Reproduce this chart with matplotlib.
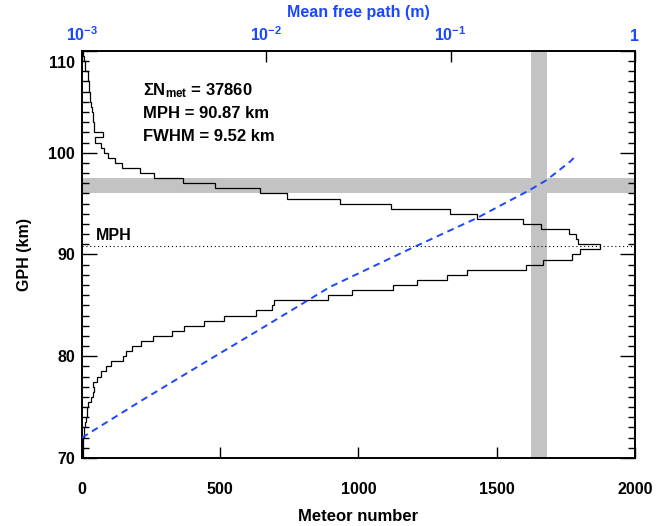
import numpy as np
import matplotlib
matplotlib.use("Agg")
import matplotlib.pyplot as plt
from matplotlib.ticker import MultipleLocator, FixedLocator, NullLocator, FixedFormatter
from matplotlib.transforms import ScaledTranslation

plt.rcParams['font.family'] = ['Liberation Sans', 'DejaVu Sans']
plt.rcParams['font.weight'] = 'bold'
plt.rcParams['mathtext.fontset'] = 'custom'
plt.rcParams['mathtext.rm'] = 'Liberation Sans'
plt.rcParams['mathtext.bf'] = 'Liberation Sans:bold'
plt.rcParams['mathtext.it'] = 'Liberation Sans:bold'

# ---- data ----
# histogram: 0.5 km bins from 70 to 110 km (lower bin edges)
bin_lower = np.arange(70.0, 110.0, 0.5)
counts = [
    2, 3, 4, 5, 6, 8, 11, 14, 17, 19,            # 70.0 - 74.5
    20, 33, 38, 42, 41, 55, 70, 87, 105, 150,    # 75.0 - 79.5
    158, 182, 212, 257, 327, 369, 442, 514, 628, 688,   # 80.0 - 84.5
    695, 891, 975, 1126, 1212, 1319, 1393, 1605, 1667, 1772,  # 85.0 - 89.5
    1800, 1873, 1794, 1785, 1762, 1659, 1596, 1427, 1331, 1118,  # 90.0 - 94.5
    933, 741, 645, 482, 367, 259, 211, 145, 118, 95,    # 95.0 - 99.5
    80, 70, 48, 75, 45, 42, 40, 38, 36, 33,      # 100.0 - 104.5
    30, 28, 26, 25, 23, 20, 12, 10, 6, 3,        # 105.0 - 109.5
]
bin_width = 0.5

# mean free path profile (GPH km, metres)
mfp_gph = [72.0, 75.57, 79.41, 83.04, 86.8, 90.7, 93.56, 96.34, 97.32, 99.12, 99.8]
mfp_m = [1.0e-3, 2.07e-3, 4.65e-3, 1.005e-2, 2.21e-2, 6.27e-2, 0.138, 0.269, 0.332, 0.444, 0.484]

n_met = 37860
mph = 90.87
fwhm = 9.52

hband = (96.0, 97.55)        # GPH band (km)
vband = (1625, 1682)         # meteor-number band

x_ticks = [0, 500, 1000, 1500, 2000]
y_ticks = [70, 80, 90, 100, 110]
top_ticks = [1e-3, 1e-2, 1e-1, 1]
top_labels = [r'$\mathbf{10^{-3}}$', r'$\mathbf{10^{-2}}$', r'$\mathbf{10^{-1}}$', '1']

blue = '#1a47ff'

# ---- figure ----
fig = plt.figure(figsize=(6.64, 5.26), dpi=100)
ax = fig.add_axes([0.1235, 0.1293, 0.8328, 0.7738])

ax.axhspan(*hband, color='#c3c3c3', lw=0, zorder=0)
ax.axvspan(*vband, color='#c3c3c3', lw=0, zorder=0)

edges = np.append(bin_lower, bin_lower[-1] + bin_width)
ax.stairs(counts, edges, orientation='horizontal', baseline=None,
          color='black', lw=0.9, zorder=2)

ax.axhline(mph, color='black', lw=0.8, linestyle=(0, (1, 2.5)), zorder=2)
ax.text(51, 91.9, 'MPH', fontsize=11.5, fontweight='bold', va='center', ha='left')

ax.text(220, 106.07, r'$\Sigma\mathbf{N_{met}}$' + f' = {n_met}', fontsize=12,
        fontweight='bold', va='center', ha='left')
ax.text(220, 103.86, f'MPH = {mph:.2f} km', fontsize=12, fontweight='bold',
        va='center', ha='left')
ax.text(220, 101.6, f'FWHM = {fwhm:.2f} km', fontsize=12, fontweight='bold',
        va='center', ha='left')

ax.set_xlim(0, 2000)
ax.set_ylim(70, 110)
ax.xaxis.set_major_locator(FixedLocator(x_ticks))
ax.xaxis.set_minor_locator(NullLocator())
ax.yaxis.set_major_locator(FixedLocator(y_ticks))
ax.yaxis.set_minor_locator(MultipleLocator(1))
ax.tick_params(axis='x', which='major', direction='in', length=8, width=1.0,
               bottom=True, top=False, pad=17, labelsize=11.5)
ax.tick_params(axis='y', which='major', direction='in', length=11, width=1.0,
               left=True, right=True, pad=5, labelsize=11.5)
ax.tick_params(axis='y', which='minor', direction='in', length=5, width=1.0,
               left=True, right=True)
for lbl in ax.get_xticklabels() + ax.get_yticklabels():
    lbl.set_fontweight('bold')
ax.set_xlabel('Meteor number', fontsize=12, fontweight='bold', labelpad=9)
ax.set_ylabel('GPH (km)', fontsize=11.5, fontweight='bold', labelpad=12)
for s in ax.spines.values():
    s.set_linewidth(1.2)

# keep the topmost y label inside the frame, as in the original
top_tick = ax.yaxis.get_major_ticks()[-1]
top_tick.label1.set_transform(top_tick.label1.get_transform() +
                              ScaledTranslation(0, -0.11, fig.dpi_scale_trans))

ax2 = ax.twiny()
ax2.set_xscale('log')
ax2.set_xlim(1e-3, 1)
ax2.plot(mfp_m, mfp_gph, color=blue, lw=1.4, linestyle=(0, (3.5, 2.5)), zorder=3)
ax2.xaxis.set_major_locator(FixedLocator(top_ticks))
ax2.xaxis.set_major_formatter(FixedFormatter(top_labels))
ax2.xaxis.set_minor_locator(NullLocator())
ax2.tick_params(axis='x', which='major', direction='in', length=8, width=1.0,
                labelcolor=blue, pad=5, labelsize=11.5)
for lbl in ax2.get_xticklabels():
    lbl.set_fontweight('bold')
ax2.set_xlabel('Mean free path (m)', fontsize=11.5, fontweight='bold', color=blue,
               labelpad=6)
ax2.set_ylim(70, 110)
for s in ax2.spines.values():
    s.set_linewidth(1.2)

fig.savefig('out.png', dpi=100)
